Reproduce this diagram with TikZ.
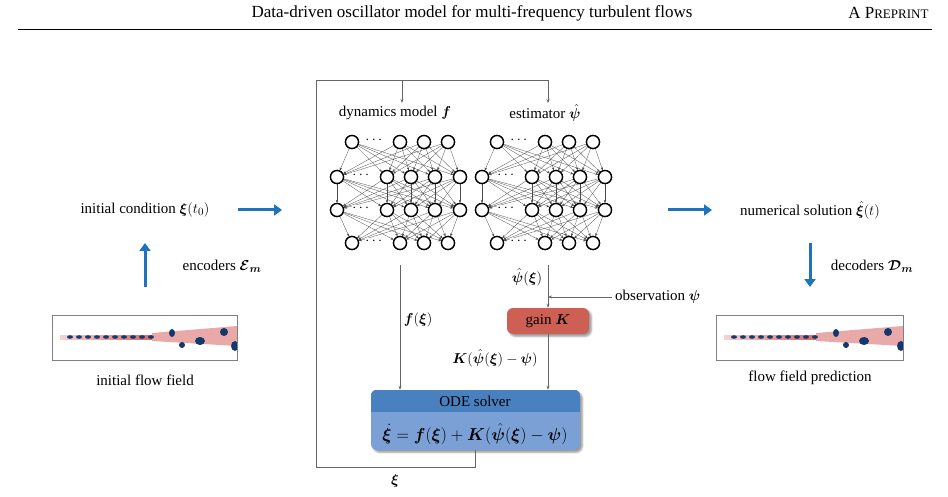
\documentclass[tikz,border=0pt]{standalone}
\usepackage{fontspec}
\setmainfont{Liberation Serif}
\usepackage{amsmath,bm}
\usetikzlibrary{arrows.meta,shadows.blur}
\definecolor{barrow}{RGB}{30,115,190}
\definecolor{gainc}{RGB}{205,95,85}
\definecolor{odetop}{RGB}{72,128,192}
\definecolor{odebot}{RGB}{122,160,214}
\definecolor{fred}{RGB}{200,40,40}
\definecolor{fblue}{RGB}{20,55,110}
\begin{document}
\begin{tikzpicture}[x=1pt,y=-1pt,
  txt/.style={font=\fontsize{15}{17}\selectfont, inner sep=1pt},
  neu/.style={circle,draw=black,line width=1.3pt,fill=white,minimum size=13pt,inner sep=0},
  ed/.style={draw=black!70,line width=0.3pt},
  ln/.style={draw=black!60,line width=0.6pt},
  la/.style={ln,-{Stealth[length=4pt,width=3pt]}},
  big/.style={draw=barrow,line width=3pt,-{Triangle[length=8pt,width=11pt]}}]
\useasboundingbox (0,0) rectangle (948,497);
% header
\node[font=\fontsize{17}{19}\selectfont] (hd) at (472,13) {Data-driven oscillator model for multi-frequency turbulent flows};
\node[font=\fontsize{17}{19}\selectfont,anchor=east] (ap) at (932,13) {A P{\fontsize{13}{15}\selectfont REPRINT}};
\draw[line width=0.5pt] (18,29) coordinate (r1) -- (932,29) coordinate (r2);
% networks
\foreach \o/\n in {0/L,145/R}{
  \foreach \i/\x in {1/352,2/400,3/424,4/448}{\node[neu] (\n a\i) at (\x+\o,142) {}; \node[neu] (\n d\i) at (\x+\o,243) {};}
  \foreach \i/\x in {1/337,2/387,3/411,4/435,5/460}{\node[neu] (\n b\i) at (\x+\o,177) {}; \node[neu] (\n c\i) at (\x+\o,210) {};}
}
\foreach \n in {L,R}{
  \foreach \i in {1,...,4}{\foreach \j in {1,...,5}{
    \draw[ed,-{Stealth[length=3pt,width=2.5pt]}] (\n a\i) -- (\n b\j);
    \draw[ed,-{Stealth[length=3pt,width=2.5pt]}] (\n c\j) -- (\n d\i);}}
  \foreach \i in {1,...,5}{\foreach \j in {1,...,5}{
    \draw[ed,-{Stealth[length=3pt,width=2.5pt]}] (\n b\i) -- (\n c\j);}}
}
\foreach \n in {L,R}{
  \foreach \i in {1,...,4}{\node[neu] at (\n a\i) {}; \node[neu] at (\n d\i) {};}
  \foreach \i in {1,...,5}{\node[neu] at (\n b\i) {}; \node[neu] at (\n c\i) {};}
}
\foreach \o in {0,145}{
  \foreach \y in {142,243}{\node[txt,fill=white,inner sep=0pt] at (375+\o,\y-2) {$\cdots$};}
  \foreach \y in {177,210}{\node[txt,fill=white,inner sep=0pt] at (362+\o,\y-2) {$\cdots$};}
}
\node[txt] (dm) at (395,113) {dynamics model $\bm f$};
\node[txt] (es) at (545,113) {estimator $\hat{\bm\psi}$};
% boxes
\node[rounded corners=6pt,fill=gainc,minimum width=82pt,minimum height=26pt,txt,blur shadow] (gain) at (548,321) {gain $\bm K$};
\node[rounded corners=6pt,fill=odebot,minimum width=209pt,minimum height=60pt,blur shadow] (ode) at (475.5,420) {};
\begin{scope}
\clip[rounded corners=6pt] (ode.north west) rectangle (ode.south east);
\fill[odetop] (ode.north west) rectangle ([yshift=-22pt]ode.north east);
\end{scope}
\node[txt] (odt) at (475,401) {ODE solver};
\node[txt,font=\fontsize{16}{18}\selectfont] (eq) at (475,434) {$\dot{\bm\xi}=\bm f(\bm\xi)+\bm K(\hat{\bm\psi}(\bm\xi)-\bm\psi)$};
% connectors
\coordinate (fs) at (400,265); \coordinate (ps) at (548,265);
\draw[la] (fs) -- (fs|-ode.north);
\draw[la] (ps) -- (gain.north);
\draw[la] (gain.south) -- (gain.south|-ode.north);
\coordinate (obs) at (612,297);
\draw[la] (obs) -- (548,297);
\node[txt,anchor=west] (obl) at (614,297) {observation $\bm\psi$};
\node[txt] (fl) at (418,320) {$\bm f(\bm\xi)$};
\node[txt] (pl) at (527,277) {$\hat{\bm\psi}(\bm\xi)$};
\node[txt] (kl) at (495,358) {$\bm K(\hat{\bm\psi}(\bm\xi)-\bm\psi)$};
\coordinate (t1) at (402,80); \coordinate (t2) at (548,80);
\draw[ln] (475,450) -- (475,467) -- (316,467) -- (316,80) -- (t2) -- (548,102);
\draw[la] (t2) -- (548,103);
\draw[la] (t1) -- (402,103);
\node[txt] (xl) at (395,481) {$\bm\xi$};
% left
\node[txt] (ic) at (145,210) {initial condition $\bm\xi(t_0)$};
\coordinate (a1) at (238,210); \coordinate (a2) at (282,210);
\draw[big] (a1) -- (a2);
\coordinate (u1) at (145,287); \coordinate (u2) at (145,243);
\draw[big] (u1) -- (u2);
\node[txt] (enc) at (222,266) {encoders $\bm{\mathcal E}_{\bm m}$};
\node[txt] (ifl) at (145,380) {initial flow field};
% right
\coordinate (b1) at (668,210); \coordinate (b2) at (712,210);
\draw[big] (b1) -- (b2);
\node[txt] (ns) at (810,210) {numerical solution $\hat{\bm\xi}(t)$};
\coordinate (d1) at (810,243); \coordinate (d2) at (810,287);
\draw[big] (d1) -- (d2);
\node[txt] (dec) at (872,266) {decoders $\bm{\mathcal D}_{\bm m}$};
\node[txt] (ffp) at (810,378) {flow field prediction};
% flow images
\foreach \x/\w/\nm in {52/185/fi,716/187/fp}{
  \begin{scope}
  \clip (\x,315) rectangle (\x+\w,360);
  \fill[white] (\x,315) rectangle (\x+\w,360);
  \shade[left color=fred!20,right color=fred!70] (\x+8,335) rectangle (\x+100,339);
  \fill[fred!40] (\x+100,333) -- (\x+\w,326) -- (\x+\w,346) -- (\x+100,341) -- cycle;
  \foreach \k in {0,...,9}{\fill[fblue] (\x+18+\k*9,337) ellipse (3pt and 1.8pt);}
  \fill[fblue] (\x+120,333) ellipse (3pt and 4pt);
  \fill[fblue] (\x+130,345) ellipse (3pt and 3pt);
  \fill[fblue] (\x+148,341) ellipse (5pt and 4pt);
  \fill[fblue] (\x+172,332) ellipse (4pt and 4pt);
  \fill[fblue] (\x+\w-2,346) ellipse (4pt and 5pt);
  \end{scope}
  \draw[black!50,line width=0.6pt] (\x,315) rectangle (\x+\w,360);
  \node (\nm) at (\x+\w/2,337) {};
}
\end{tikzpicture}
\end{document}
